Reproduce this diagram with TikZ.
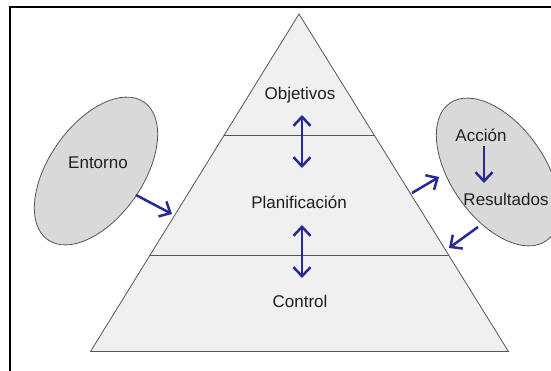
\documentclass[tikz,border=0pt]{standalone}
\usepackage{fontspec}
\setmainfont{Liberation Sans}
\usetikzlibrary{arrows.meta,shapes.geometric,calc}
\definecolor{arrowblue}{RGB}{40,40,150}
\definecolor{tierfill}{RGB}{240,240,240}
\definecolor{edgegray}{RGB}{85,85,85}
\definecolor{blobfill}{RGB}{217,217,217}
\begin{document}
\begin{tikzpicture}[x=1pt,y=-1pt,
  txt/.style={font=\fontsize{17}{19}\selectfont, text=black!88, inner sep=0},
  flow/.style={draw=arrowblue, line width=2.5pt, -{Straight Barb[length=9pt,width=17pt]}},
  both/.style={draw=arrowblue, line width=2.5pt, {Straight Barb[length=9pt,width=17pt]}-{Straight Barb[length=9pt,width=17pt]}},
  blob/.style={ellipse, draw=edgegray, fill=blobfill, line width=0.8pt,
    minimum width=168pt, minimum height=94pt, inner sep=0},
  tier/.style={draw=edgegray, line width=0.8pt}
]
\useasboundingbox (0,0) rectangle (551,370);
\clip (0,0) rectangle (551,370);

% outer frame
\draw[line width=1.5pt] (10,375) -- (10,7) -- (556,7);

% pyramid with three tiers
\coordinate (apex) at (299,14);
\coordinate (bl) at (90.5,351.5);
\coordinate (br) at (508.5,351.5);
\coordinate (l1) at ($(apex)!0.36!(bl)$);
\coordinate (r1) at ($(apex)!0.36!(br)$);
\coordinate (l2) at ($(apex)!0.714!(bl)$);
\coordinate (r2) at ($(apex)!0.714!(br)$);
\filldraw[tier, fill=tierfill] (apex) -- (br) -- (bl) -- cycle;
\draw[tier] (l1) -- (r1);
\draw[tier] (l2) -- (r2);

\node[txt] (obj) at (300,95) {Objetivos};
\node[txt] (plan) at (299,202) {Planificación};
\node[txt] (ctrl) at (300,301) {Control};

% links between tiers
\coordinate (t1a) at (302,115);
\coordinate (t1b) at (302,168);
\coordinate (t2a) at (302,225);
\coordinate (t2b) at (302,278);
\draw[both] (t1a) -- (t1b);
\draw[both] (t2a) -- (t2b);

% environment
\node[blob, rotate=55] (env) at (96,171) {};
\node[txt] (entorno) at (98,163) {Entorno};
\coordinate (envout) at (136,195);
\coordinate (envin) at (172,214);
\draw[flow] (envout) -- (envin);

% action and results
\node[blob, rotate=-55] (act) at (498,172) {};
\node[txt] (accion) at (481,135) {Acción};
\node[txt] (result) at (506,199) {Resultados};
\coordinate (a1) at (484,146);
\coordinate (a2) at (484,183);
\draw[flow] (a1) -- (a2);
\coordinate (plout) at (412,193);
\coordinate (actin) at (439,177);
\draw[flow] (plout) -- (actin);
\coordinate (resout) at (478,227);
\coordinate (plin) at (449,248);
\draw[flow] (resout) -- (plin);
\end{tikzpicture}
\end{document}
